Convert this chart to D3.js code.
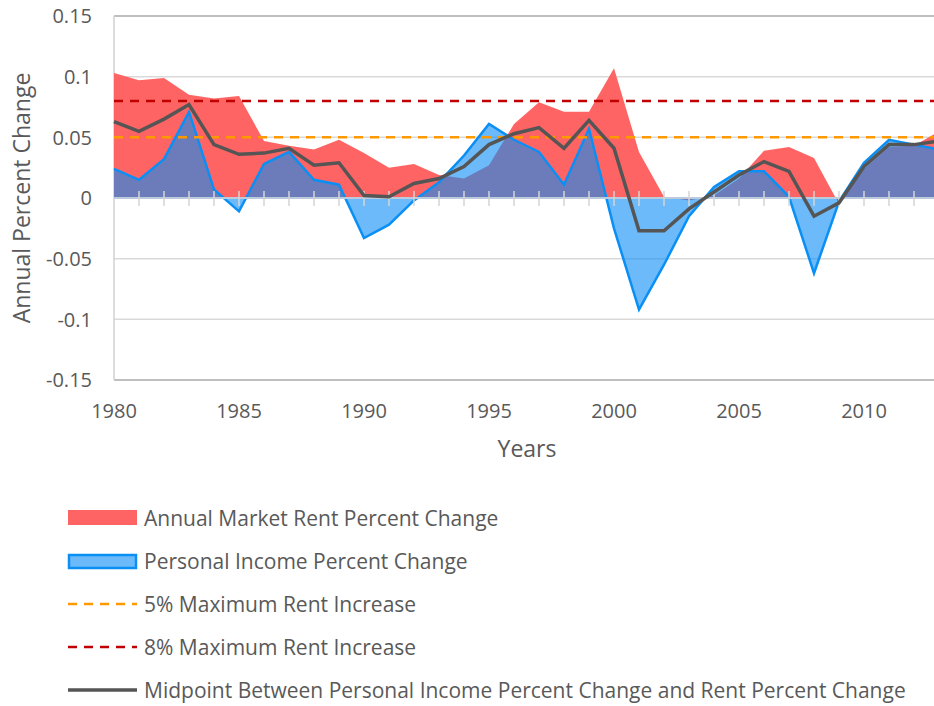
<!DOCTYPE html>
<html lang="en">
<head>
  <meta charset="utf-8">
  <title>Rent vs personal income percent change</title>
  <script src="https://d3js.org/d3.v7.min.js"></script>
  <style>
    body { margin: 0; background: #fff; }
    text { font-family: "Open Sans", "Lato", sans-serif; fill: #595959; }
  </style>
</head>
<body>
<script>
// years on the category axis (the last one runs off the right edge)
var years = d3.range(1980, 2014);

// annual market rent percent change
var rent = [0.103, 0.097, 0.099, 0.085, 0.082, 0.084, 0.047, 0.043, 0.040, 0.048,
            0.037, 0.025, 0.028, 0.019, 0.016, 0.027, 0.061, 0.079, 0.071, 0.071,
            0.107, 0.038, 0.001, -0.002, 0.002, 0.016, 0.039, 0.042, 0.033, -0.005,
            0.024, 0.042, 0.043, 0.055];

// personal income percent change
var income = [0.024, 0.015, 0.032, 0.071, 0.007, -0.011, 0.028, 0.038, 0.015, 0.011,
              -0.033, -0.022, -0.002, 0.013, 0.035, 0.061, 0.048, 0.038, 0.011, 0.057,
              -0.025, -0.092, -0.055, -0.015, 0.009, 0.022, 0.022, 0.001, -0.062, -0.003,
              0.029, 0.048, 0.044, 0.040];

// midpoint line
var midpoint = [0.063, 0.055, 0.065, 0.077, 0.044, 0.036, 0.037, 0.041, 0.027, 0.029,
                0.002, 0.001, 0.012, 0.016, 0.026, 0.044, 0.053, 0.058, 0.041, 0.064,
                0.041, -0.027, -0.027, -0.009, 0.005, 0.019, 0.030, 0.022, -0.015, -0.004,
                0.026, 0.044, 0.044, 0.047];

var yTicks = [0.15, 0.1, 0.05, 0, -0.05, -0.1, -0.15];
var yTickLabels = ["0.15", "0.1", "0.05", "0", "-0.05", "-0.1", "-0.15"];
var xTickYears = [1980, 1985, 1990, 1995, 2000, 2005, 2010];

var capLow = 0.05, capHigh = 0.08;

var legendItems = [
  "Annual Market Rent Percent Change",
  "Personal Income Percent Change",
  "5% Maximum Rent Increase",
  "8% Maximum Rent Increase",
  "Midpoint Between Personal Income Percent Change and Rent Percent Change"
];

var width = 934, height = 706;
var plotLeft = 114, plotTop = 16, plotBottom = 380;

var x = d3.scaleLinear().domain([1980, 2013]).range([plotLeft, plotLeft + 33 * 25]);
var y = d3.scaleLinear().domain([-0.15, 0.15]).range([plotBottom, plotTop]);

var svg = d3.select("body").append("svg")
  .attr("width", width)
  .attr("height", height);

// gridlines
svg.selectAll(".grid")
  .data(yTicks.filter(function(d) { return d !== 0; }))
  .enter().append("line")
  .attr("x1", plotLeft).attr("x2", width)
  .attr("y1", function(d) { return y(d); })
  .attr("y2", function(d) { return y(d); })
  .attr("stroke", function(d) { return Math.abs(d) === 0.15 ? "#aaaaaa" : "#d9d9d9"; })
  .attr("stroke-width", 1.5);

svg.append("line")
  .attr("x1", plotLeft).attr("x2", plotLeft)
  .attr("y1", plotTop).attr("y2", plotBottom)
  .attr("stroke", "#d0d0d0").attr("stroke-width", 1.5);

var rows = years.map(function(yr, i) {
  return { year: yr, rent: rent[i], income: income[i], mid: midpoint[i] };
});

var rentArea = d3.area()
  .x(function(d) { return x(d.year); })
  .y0(y(0))
  .y1(function(d) { return y(d.rent); });

var incomeArea = d3.area()
  .x(function(d) { return x(d.year); })
  .y0(y(0))
  .y1(function(d) { return y(d.income); });

var incomeLine = d3.line()
  .x(function(d) { return x(d.year); })
  .y(function(d) { return y(d.income); });

var midLine = d3.line()
  .x(function(d) { return x(d.year); })
  .y(function(d) { return y(d.mid); });

svg.append("path").datum(rows)
  .attr("d", rentArea)
  .attr("fill", "#ff6464");

svg.append("path").datum(rows)
  .attr("d", incomeArea)
  .attr("fill", "#0a8cf5")
  .attr("fill-opacity", 0.6);

svg.append("path").datum(rows)
  .attr("d", incomeLine)
  .attr("fill", "none")
  .attr("stroke", "#0a8ff5")
  .attr("stroke-width", 2.5)
  .attr("stroke-linejoin", "miter");

// zero axis with crossing ticks
svg.append("line")
  .attr("x1", plotLeft).attr("x2", width)
  .attr("y1", y(0)).attr("y2", y(0))
  .attr("stroke", "#bccbdb").attr("stroke-width", 2);

svg.selectAll(".tick")
  .data(years.slice(1))
  .enter().append("line")
  .attr("x1", function(d) { return x(d); })
  .attr("x2", function(d) { return x(d); })
  .attr("y1", y(0) - 7).attr("y2", y(0) + 8)
  .attr("stroke", "#d4d4d4").attr("stroke-width", 1.5);

// rent caps
[[capLow, "#ff9900"], [capHigh, "#c00000"]].forEach(function(c) {
  svg.append("line")
    .attr("x1", plotLeft).attr("x2", width)
    .attr("y1", y(c[0])).attr("y2", y(c[0]))
    .attr("stroke", c[1]).attr("stroke-width", 2.5)
    .attr("stroke-dasharray", "9,7");
});

svg.append("path").datum(rows)
  .attr("d", midLine)
  .attr("fill", "none")
  .attr("stroke", "#555555")
  .attr("stroke-width", 3.5)
  .attr("stroke-linejoin", "miter");

// y tick labels
svg.selectAll(".ylab")
  .data(yTicks)
  .enter().append("text")
  .attr("x", 92)
  .attr("y", function(d) { return y(d); })
  .attr("dy", "0.36em")
  .attr("text-anchor", "end")
  .attr("font-size", 20)
  .text(function(d, i) { return yTickLabels[i]; });

// x tick labels
svg.selectAll(".xlab")
  .data(xTickYears)
  .enter().append("text")
  .attr("x", function(d) { return x(d); })
  .attr("y", 418)
  .attr("text-anchor", "middle")
  .attr("font-size", 20)
  .text(function(d) { return d; });

svg.append("text")
  .attr("x", 527).attr("y", 457)
  .attr("text-anchor", "middle")
  .attr("font-size", 23)
  .text("Years");

svg.append("text")
  .attr("transform", "translate(30,198) rotate(-90)")
  .attr("text-anchor", "middle")
  .attr("font-size", 23)
  .text("Annual Percent Change");

// legend
var legend = svg.selectAll(".legend")
  .data(legendItems)
  .enter().append("g")
  .attr("transform", function(d, i) { return "translate(0," + (518 + i * 43) + ")"; });

legend.each(function(d, i) {
  var g = d3.select(this);
  if (i === 0) {
    g.append("rect").attr("x", 68).attr("y", -8).attr("width", 69).attr("height", 15)
      .attr("fill", "#ff6464");
  } else if (i === 1) {
    g.append("rect").attr("x", 69).attr("y", -6).attr("width", 67).attr("height", 13)
      .attr("fill", "#0a8cf5").attr("fill-opacity", 0.6)
      .attr("stroke", "#0a8ff5").attr("stroke-width", 2.5);
  } else if (i === 2 || i === 3) {
    g.append("line").attr("x1", 68).attr("x2", 137).attr("y1", 0).attr("y2", 0)
      .attr("stroke", i === 2 ? "#ff9900" : "#c00000")
      .attr("stroke-width", 2.5).attr("stroke-dasharray", "9,7");
  } else {
    g.append("line").attr("x1", 68).attr("x2", 137).attr("y1", 0).attr("y2", 0)
      .attr("stroke", "#555555").attr("stroke-width", 3.5);
  }
  g.append("text")
    .attr("x", 144).attr("y", 0)
    .attr("dy", "0.36em")
    .attr("font-size", 21)
    .text(d);
});
</script>
</body>
</html>
